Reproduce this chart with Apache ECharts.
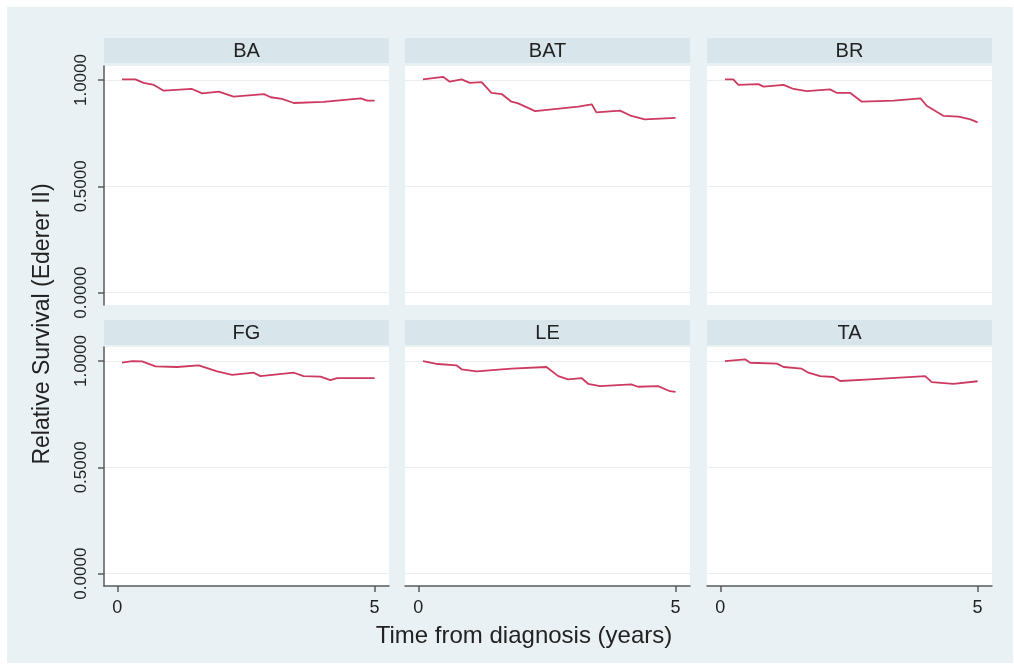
<!DOCTYPE html>
<html>
<head>
<meta charset="utf-8">
<script src="https://cdn.jsdelivr.net/npm/echarts@6/dist/echarts.min.js"></script>
<style>
html, body { margin: 0; padding: 0; background: #fff; }
#frame { position: absolute; left: 7px; top: 7px; width: 1006px; height: 656px; background: #eaf1f4; }
#chart { position: absolute; left: 0; top: 0; width: 1014px; height: 665px; }
</style>
</head>
<body>
<div id="frame"></div>
<div id="chart"></div>
<script>
// panel names (by-groups)
var panelNames = ['BA', 'BAT', 'BR', 'FG', 'LE', 'TA'];

// relative survival (time in years)
var baTime = [0.09, 0.35, 0.51, 0.71, 0.90, 1.45, 1.65, 1.97, 2.26, 2.85, 2.98, 3.20, 3.43, 4.01, 4.73, 4.86, 5.00];
var baSurv = [1.003, 1.003, 0.987, 0.977, 0.950, 0.958, 0.937, 0.945, 0.922, 0.934, 0.919, 0.911, 0.892, 0.897, 0.914, 0.903, 0.903];

var batTime = [0.09, 0.48, 0.61, 0.84, 1.00, 1.23, 1.42, 1.62, 1.81, 1.94, 2.27, 3.11, 3.37, 3.46, 3.92, 4.14, 4.40, 5.00];
var batSurv = [1.003, 1.015, 0.992, 1.003, 0.987, 0.990, 0.940, 0.934, 0.898, 0.890, 0.854, 0.875, 0.886, 0.848, 0.856, 0.831, 0.815, 0.822];

var brTime = [0.09, 0.25, 0.35, 0.74, 0.84, 1.23, 1.42, 1.68, 2.13, 2.26, 2.52, 2.75, 3.37, 3.89, 4.01, 4.34, 4.63, 4.86, 5.00];
var brSurv = [1.003, 1.003, 0.977, 0.981, 0.969, 0.977, 0.958, 0.948, 0.956, 0.940, 0.940, 0.898, 0.903, 0.914, 0.879, 0.831, 0.828, 0.815, 0.801];

var fgTime = [0.09, 0.29, 0.48, 0.74, 1.16, 1.58, 1.94, 2.23, 2.65, 2.78, 3.43, 3.62, 3.95, 4.14, 4.27, 5.00];
var fgSurv = [0.992, 1.000, 0.998, 0.975, 0.972, 0.980, 0.951, 0.935, 0.945, 0.929, 0.945, 0.929, 0.927, 0.910, 0.920, 0.920];

var leTime = [0.09, 0.38, 0.74, 0.84, 1.13, 1.81, 2.49, 2.72, 2.91, 3.17, 3.30, 3.53, 4.14, 4.27, 4.66, 4.89, 5.00];
var leSurv = [1.000, 0.986, 0.980, 0.961, 0.951, 0.964, 0.972, 0.929, 0.914, 0.920, 0.893, 0.882, 0.890, 0.879, 0.882, 0.858, 0.855];

var taTime = [0.09, 0.48, 0.58, 1.10, 1.23, 1.58, 1.71, 1.94, 2.20, 2.33, 2.91, 3.98, 4.11, 4.53, 5.00];
var taSurv = [1.000, 1.008, 0.992, 0.988, 0.972, 0.964, 0.945, 0.929, 0.925, 0.906, 0.914, 0.929, 0.901, 0.893, 0.905];

var panelTimes = [baTime, batTime, brTime, fgTime, leTime, taTime];
var panelSurvs = [baSurv, batSurv, brSurv, fgSurv, leSurv, taSurv];

// axis ticks
var xTicks = [0, 5];
var yTicks = [0, 0.5, 1];

var fontFam = '"Liberation Sans", Arial, sans-serif';
var axisColor = '#5a5a5a';
var lineColor = '#cc3a60';

// layout of the 2x3 panels
var colLeft = [104, 405, 707];
var rowTop = [66, 347];
var headerTop = [38, 320];
var panelW = 285, panelH = 239, headerH = 25;

var chart = echarts.init(document.getElementById('chart'));

var grids = [], xAxes = [], yAxes = [], series = [], graphics = [];

panelNames.forEach(function (name, i) {
  var col = i % 3;
  var row = Math.floor(i / 3);

  grids.push({
    left: colLeft[col], top: rowTop[row], width: panelW, height: panelH,
    show: true, backgroundColor: '#fff', borderWidth: 0
  });

  xAxes.push({
    type: 'value', gridIndex: i, min: -0.26, max: 5.28,
    show: row === 1,
    axisLine: { show: true, onZero: false, lineStyle: { color: axisColor, width: 1.5 } },
    axisTick: { show: true, customValues: xTicks, length: 6, lineStyle: { color: axisColor, width: 1.5 } },
    axisLabel: { customValues: xTicks, fontSize: 18, margin: 13, color: '#222', fontFamily: fontFam },
    splitLine: { show: false }
  });

  yAxes.push({
    type: 'value', gridIndex: i, min: -0.058, max: 1.066,
    axisLine: { show: col === 0, onZero: false, lineStyle: { color: axisColor, width: 1.5 } },
    axisTick: { show: col === 0, customValues: yTicks, length: 6, lineStyle: { color: axisColor, width: 1.5 } },
    axisLabel: {
      show: col === 0, customValues: yTicks, rotate: 90, margin: 14,
      fontSize: 17, color: '#222', fontFamily: fontFam,
      formatter: function (v) { return v.toFixed(4); }
    },
    splitLine: { show: true, lineStyle: { color: '#e8eef1', width: 1 } }
  });

  var pts = panelTimes[i].map(function (t, k) { return [t, panelSurvs[i][k]]; });
  series.push({
    name: name, type: 'line', xAxisIndex: i, yAxisIndex: i,
    data: pts, showSymbol: false, silent: true,
    lineStyle: { color: lineColor, width: 1.8 }
  });

  // header strip
  graphics.push({
    type: 'rect', z: 10,
    shape: { x: colLeft[col], y: headerTop[row], width: panelW, height: headerH },
    style: { fill: '#d8e5eb' }
  });
  graphics.push({
    type: 'text', z: 11,
    x: colLeft[col] + panelW / 2, y: headerTop[row] + headerH / 2 + 1,
    style: { text: name, align: 'center', verticalAlign: 'middle', fontSize: 20, fill: '#222', fontFamily: fontFam }
  });
});

// axis titles
graphics.push({
  type: 'text', z: 11, x: 43, y: 324, rotation: Math.PI / 2,
  style: { text: 'Relative Survival (Ederer II)', align: 'center', verticalAlign: 'middle', fontSize: 23, fill: '#222', fontFamily: fontFam }
});
graphics.push({
  type: 'text', z: 11, x: 524, y: 636,
  style: { text: 'Time from diagnosis (years)', align: 'center', verticalAlign: 'middle', fontSize: 24, fill: '#222', fontFamily: fontFam }
});

var option = {
  backgroundColor: 'transparent',
  animation: false,
  grid: grids,
  xAxis: xAxes,
  yAxis: yAxes,
  series: series,
  graphic: graphics
};

chart.setOption(option);
</script>
</body>
</html>
